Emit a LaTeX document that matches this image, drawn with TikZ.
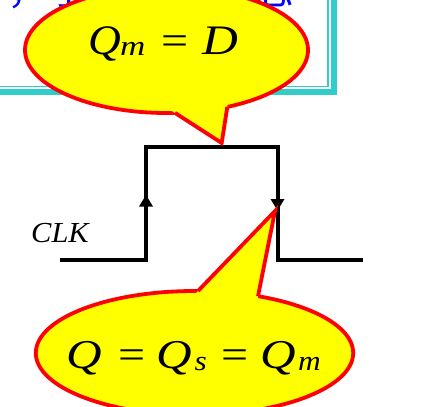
\documentclass[tikz,border=0pt]{standalone}
\usepackage{graphicx}
\usepackage{fontspec}
\setmainfont{Liberation Serif}
\newfontfamily\cjk{Noto Sans CJK SC}
\definecolor{cyanbox}{HTML}{33CCCC}
\definecolor{ballred}{HTML}{FF0000}
\definecolor{ballyel}{HTML}{FFFF00}
\definecolor{txtblue}{HTML}{0000FF}
% #1 horizontal stretch, #2 size, #3 text
\newcommand{\wideit}[3]{\scalebox{#1}[1]{\fontsize{#2}{#2}\selectfont\itshape #3}}
\newcommand{\widert}[3]{\scalebox{#1}[1]{\fontsize{#2}{#2}\selectfont #3}}
\begin{document}
\begin{tikzpicture}[x=1pt,y=-1pt,
  balloonfill/.style={fill=ballyel},
  balloonline/.style={draw=ballred, line width=3.8pt, line join=miter},
  wave/.style={line width=4pt, line join=miter, line cap=butt},
  glyph/.style={anchor=base west, inner sep=0pt},
  cjktext/.style={inner sep=0pt, font=\fontsize{41}{41}\selectfont\cjk}]
\useasboundingbox (0,0) rectangle (430,406);
\clip (0,0) rectangle (430,406);
\fill[white] (0,0) rectangle (430,406);
% background frame
\draw[cyanbox, line width=5.5pt] (-20,91.8) -- (334,91.8) -- (334,-20);
\draw[cyanbox, line width=1.5pt] (-20,86.5) -- (328,86.5) -- (328,-20);
% partial text behind the balloon
\node[cjktext, anchor=base east, text=ballred] (tred) at (7,4.5) {时};
\node[cjktext, anchor=base west, text=txtblue] (tblue) at (7,4.5) {，了触发器状态};
% clock waveform
\coordinate (w0) at (60,259.5);
\coordinate (w1) at (146,259.5);
\coordinate (w2) at (146,146.5);
\coordinate (w3) at (277.5,146.5);
\coordinate (w4) at (277.5,259.5);
\coordinate (w5) at (363,259.5);
\draw[wave] (w0) -- (w1) -- (w2) -- (w3) -- (w4) -- (w5);
\fill (139,206.5) -- (146,195) -- (153,206.5) -- cycle;
\fill (270.5,199) -- (277.5,210.5) -- (284.5,199) -- cycle;
\node[glyph] (clk) at (31,242.7) {\scalebox{1.05}[1]{\fontsize{29}{29}\selectfont\itshape CLK}};
% top balloon
\coordinate (c1) at (166.5,50);
\coordinate (b1l) at (175,112.9);
\coordinate (b1r) at (227.3,106.8);
\coordinate (t1) at (221.7,143);
\fill[balloonfill] (c1) ellipse [x radius=141.5, y radius=63];
\draw[balloonline] (c1) ellipse [x radius=141.5, y radius=63];
\fill[balloonfill] (156.3,101) -- (t1) -- (229.5,92.3) -- cycle;
\draw[balloonline] (b1l) -- (t1) -- (b1r);
\node[glyph] (q1) at (88.5,55) {\wideit{1.08}{42}{Q}};
\node[glyph] (m1) at (120,56) {\wideit{1.25}{28}{m}};
\node[glyph] (e1) at (161.5,55) {\widert{1.17}{41}{=}};
\node[glyph] (d1) at (202.5,55) {\wideit{1.18}{42}{D}};
% bottom balloon
\coordinate (c2) at (194.5,353);
\coordinate (b2l) at (198,291);
\coordinate (b2r) at (258,296.2);
\coordinate (t2) at (275,211);
\fill[balloonfill] (c2) ellipse [x radius=158.7, y radius=62];
\draw[balloonline] (c2) ellipse [x radius=158.7, y radius=62];
\fill[balloonfill] (174.9,315) -- (t2) -- (252.9,321.8) -- cycle;
\draw[balloonline] (b2l) -- (t2) -- (b2r);
\node[glyph] (q2) at (66.5,368) {\wideit{1.2}{41}{Q}};
\node[glyph] (e2) at (118,368) {\widert{1.17}{41}{=}};
\node[glyph] (q3) at (156.5,368) {\wideit{1.2}{41}{Q}};
\node[glyph] (s3) at (194.5,370) {\wideit{1.12}{28}{s}};
\node[glyph] (e3) at (221.5,368) {\widert{1.17}{41}{=}};
\node[glyph] (q4) at (260,368) {\wideit{1.2}{41}{Q}};
\node[glyph] (m4) at (298,370) {\wideit{1.12}{28}{m}};
\end{tikzpicture}
\end{document}
